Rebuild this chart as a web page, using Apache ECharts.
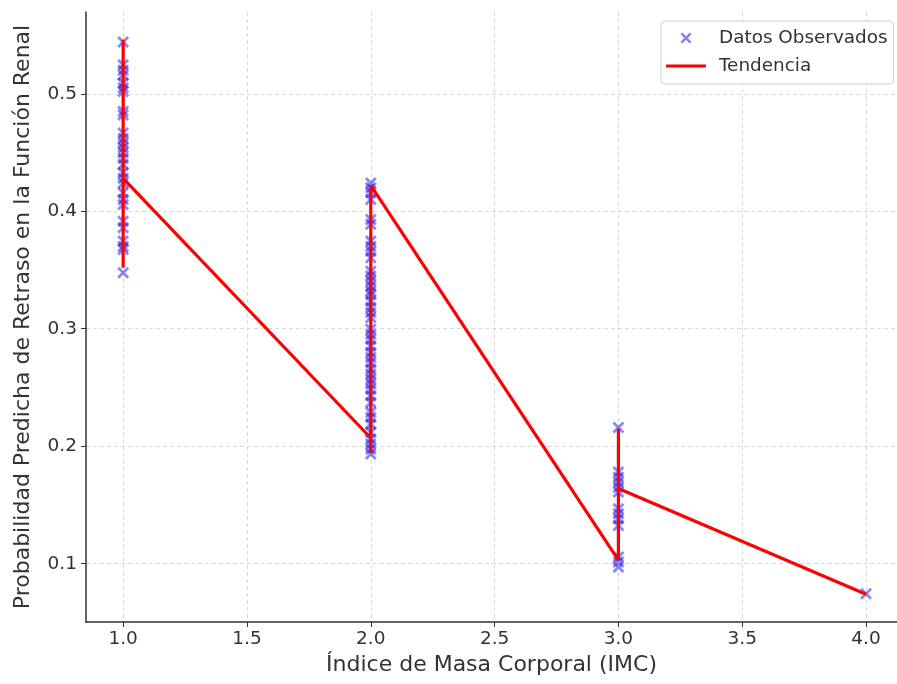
<!DOCTYPE html>
<html>
<head>
<meta charset="utf-8">
<script src="https://cdn.jsdelivr.net/npm/echarts@6/dist/echarts.min.js"></script>
<style>html,body{margin:0;padding:0;background:#fff}#c{width:897px;height:684px}</style>
</head>
<body>
<div id="c"></div>
<script>
// Observed points, grouped by IMC
const obsImc1 = [0.544,0.5246,0.520,0.516,0.509,0.505,0.502,0.485,0.482,0.4666,0.462,0.458,0.454,0.450,0.445,0.440,0.4327,0.428,0.424,0.4157,0.410,0.4057,0.3915,0.386,0.3746,0.370,0.3675,0.3477];
const obsImc2 = [0.424,0.420,0.4157,0.410,0.393,0.389,0.3746,0.370,0.366,0.3605,0.349,0.345,0.3406,0.3364,0.332,0.329,0.3236,0.318,0.3138,0.3095,0.2996,0.2953,0.291,0.2854,0.2798,0.2755,0.2713,0.2656,0.2614,0.257,0.253,0.2486,0.243,0.2373,0.2288,0.2246,0.219,0.2118,0.2062,0.202,0.1977,0.1934];
const obsImc3 = [0.216,0.178,0.1736,0.1694,0.165,0.161,0.1467,0.1425,0.1382,0.1325,0.1057,0.1014,0.0972];
const obsImc4 = [0.0745];
// Trend line sequence
const trendX = [1,1,1,2,2,2,3,3,3,4];
const trendY = [0.546,0.352,0.428,0.207,0.194,0.422,0.103,0.215,0.164,0.074];
// Tick values
const xTicks = [1.0,1.5,2.0,2.5,3.0,3.5,4.0];
const yTicks = [0.1,0.2,0.3,0.4,0.5];

const obs = [];
[[1,obsImc1],[2,obsImc2],[3,obsImc3],[4,obsImc4]].forEach(([x,arr])=>arr.forEach(v=>obs.push([x,v])));
const trend = trendX.map((x,i)=>[x,trendY[i]]);

const xPath = 'path://M1.7,0 L5,3.3 L8.3,0 L10,1.7 L6.7,5 L10,8.3 L8.3,10 L5,6.7 L1.7,10 L0,8.3 L3.3,5 L0,1.7 Z';
const linePath = 'path://M0,0 L40,0 L40,3.2 L0,3.2 Z';
const font = 'DejaVu Sans';
const chart = echarts.init(document.getElementById('c'));
chart.setOption({
  animation:false,
  textStyle:{fontFamily:font},
  grid:{left:86,right:0,top:12,bottom:62,containLabel:false},
  legend:{
    orient:'vertical', left:661, top:21,
    padding:[8,6,9,5], itemGap:10,
    backgroundColor:'#fff', borderColor:'#d0d0d0', borderWidth:1, borderRadius:4,
    itemWidth:40, itemHeight:11,
    textStyle:{fontFamily:font,fontSize:18.4,color:'#333',padding:[0,0,0,8]},
    data:[
      {name:'Datos Observados',icon:xPath,itemStyle:{color:'rgba(60,60,235,0.8)'}},
      {name:'Tendencia',icon:linePath,itemStyle:{color:'#ff0000'}}
    ]
  },
  xAxis:{
    type:'value', min:0.85, max:4.125,
    name:'Índice de Masa Corporal (IMC)', nameLocation:'middle', nameGap:32,
    nameTextStyle:{fontFamily:font,fontSize:22,color:'#333'},
    axisLine:{show:true,onZero:false,lineStyle:{color:'#333',width:1.5}},
    axisTick:{show:true,length:5,customValues:xTicks,lineStyle:{color:'#333'}},
    axisLabel:{customValues:xTicks,fontSize:18.5,color:'#333',margin:8,formatter:v=>v.toFixed(1)},
    splitLine:{show:true,lineStyle:{color:'#cfcfcf',type:[4,3],width:0.8}}
  },
  yAxis:{
    type:'value', min:0.0504, max:0.5696,
    name:'Probabilidad Predicha de Retraso en la Función Renal', nameLocation:'middle', nameGap:52,
    nameTextStyle:{fontFamily:font,fontSize:22,color:'#333'},
    axisLine:{show:true,onZero:false,lineStyle:{color:'#333',width:1.5}},
    axisTick:{show:true,length:5,customValues:yTicks,lineStyle:{color:'#333'}},
    axisLabel:{customValues:yTicks,fontSize:18.5,color:'#333',margin:9,formatter:v=>v.toFixed(1)},
    splitLine:{show:true,lineStyle:{color:'#cfcfcf',type:[4,3],width:0.8}}
  },
  series:[
    {name:'Datos Observados',type:'scatter',data:obs,symbol:xPath,symbolSize:12,
     itemStyle:{color:'rgba(0,0,240,0.58)'},z:2},
    {name:'Tendencia',type:'line',data:trend,symbol:'none',
     lineStyle:{color:'#ff0000',width:3.2},itemStyle:{color:'#ff0000'},z:3}
  ]
});
</script>
</body>
</html>
